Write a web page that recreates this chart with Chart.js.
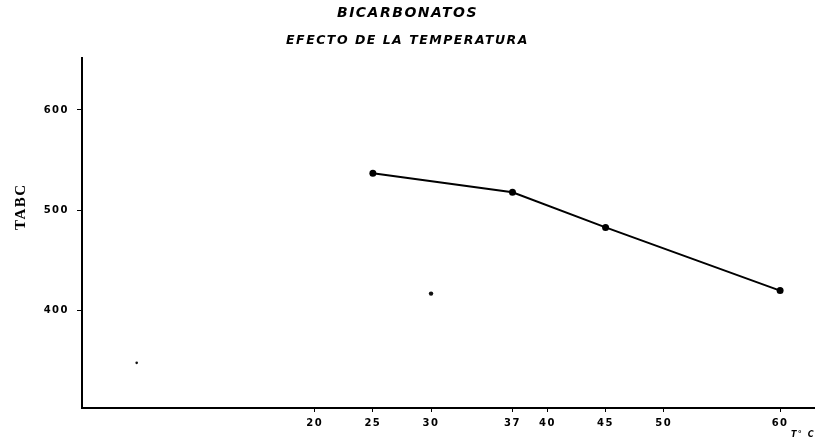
<!DOCTYPE html>
<html><head><meta charset="utf-8">
<script src="https://cdn.jsdelivr.net/npm/chart.js@4/dist/chart.umd.min.js"></script>
<style>html,body{margin:0;padding:0;background:#fff}#w{width:815px;height:440px}</style>
</head><body><div id="w"><canvas id="c"></canvas></div>
<script>
const temps = [25, 37, 45, 60];
const tabc = [537, 518, 483, 420];
const spotX = [30, 4.7];
const spotY = [417, 348];
const xTicks = [20, 25, 30, 37, 40, 45, 50, 60];
const yTicks = [400, 500, 600];

const spacing = {
  id: 'spacing',
  beforeDraw(chart) { chart.ctx.letterSpacing = '1.5px'; },
  afterDraw(chart) { chart.ctx.letterSpacing = '0px'; }
};
const tickFont = {family: 'DejaVu Sans', size: 10, weight: 'bold'};
const titleFont = {family:'DejaVu Sans', size: 14, weight:'bold', style:'italic'};
const subFont = {family:'DejaVu Sans', size: 12.5, weight:'bold', style:'italic'};
new Chart(document.getElementById('c'), {
  type: 'scatter',
  plugins: [spacing],
  data: {datasets: [
    {data: temps.map((t,i)=>({x:t,y:tabc[i]})), showLine: true, borderColor:'#000', backgroundColor:'#000', borderWidth:2, pointRadius:3.5, pointBorderWidth:0},
    {data: spotX.map((t,i)=>({x:t,y:spotY[i]})), showLine:false, backgroundColor:'#111', pointRadius:[2.2,1.3], pointBorderWidth:0}
  ]},
  options: {
    responsive: true, maintainAspectRatio: false, animation: false,
    layout: {autoPadding: false, padding: {left: 0, right: 0, top: 0, bottom: 0}},
    plugins: {
      legend: {display: false}, tooltip: {enabled: false},
      title: {display: true, text: 'BICARBONATOS', color:'#000', font: titleFont, padding: {top: 5, bottom: 9}},
      subtitle: {display: true, text: 'EFECTO DE LA TEMPERATURA', color:'#000', font: subFont, padding: {top: 2, bottom: 10}}
    },
    scales: {
      x: {type:'linear', min: 0, max: 63,
        afterBuildTicks: s => { s.ticks = xTicks.map(v=>({value:v})); },
        afterFit: s => { s.height = 32; },
        grid: {display: true, drawOnChartArea: false, drawTicks: true, tickLength: 4, color:'#000', lineWidth: 1},
        border: {color:'#000', width: 2},
        ticks: {color:'#000', font: tickFont, padding: 5, maxRotation: 0, autoSkip: false},
        title: {display: true, text: 'T° C', align: 'end', color:'#000', font:{family:'DejaVu Sans', size: 8, weight:'bold', style:'italic'}, padding: {top: 0, bottom: 0}}
      },
      y: {type:'linear', min: 303, max: 652,
        afterBuildTicks: s => { s.ticks = yTicks.map(v=>({value:v})); },
        afterFit: s => { s.width = 82; },
        grid: {display: true, drawOnChartArea: false, drawTicks: true, tickLength: 5, color:'#000', lineWidth: 1},
        border: {color:'#000', width: 2},
        ticks: {color:'#000', font: tickFont, padding: 8},
        title: {display: true, text: '          TABC', color:'#000', font:{family:'Liberation Serif', size: 15, weight:'bold'}, padding: {top: 12, bottom: 0}}
      }
    }
  }
});
</script></body></html>
